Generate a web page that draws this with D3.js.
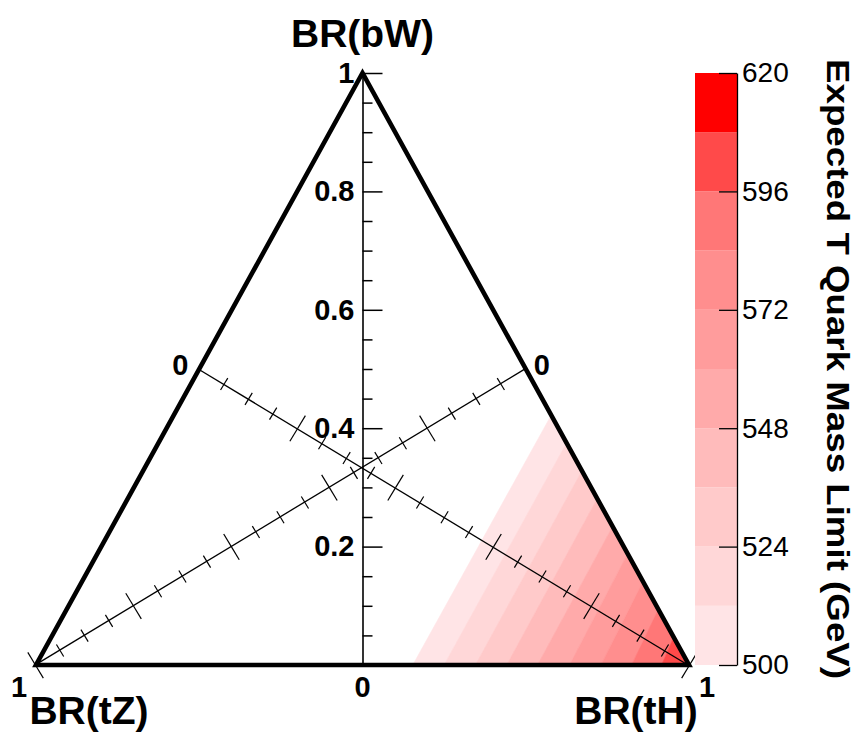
<!DOCTYPE html>
<html>
<head>
<meta charset="utf-8">
<script src="https://cdn.jsdelivr.net/npm/d3@7"></script>
<style>
  body { margin: 0; background: #fff; }
  svg text { font-family: "Liberation Sans", Arial, Helvetica, sans-serif; }
</style>
</head>
<body>
<svg id="chart" width="857" height="734"></svg>
<script>
// Expected T quark mass limit (GeV): contour levels and band colours
const levels = [500, 512, 524, 536, 548, 560, 572, 584, 596, 608, 620];
const levelColors = ["#ffe4e6", "#ffd7d8", "#ffcaca", "#ffbbbb", "#ffaaaa",
                     "#ff9c9c", "#ff8e8e", "#ff7777", "#ff4a4a", "#ff0000"];
// Where each contour (500 ... 596) meets the bottom edge: BR(tH) with BR(bW) = 0
const contourBottomTH = [0.577, 0.625, 0.673, 0.721, 0.768, 0.817, 0.865, 0.912, 0.958];
// Where each contour (500 ... 596) meets the right edge: BR(bW) with BR(tZ) = 0
const contourRightBW = [0.422, 0.375, 0.328, 0.281, 0.234, 0.188, 0.141, 0.094, 0.047];

// Axis ticks
const majorTicks = [0, 0.2, 0.4, 0.6, 0.8, 1];
const minorTicks = [0.05, 0.1, 0.15, 0.25, 0.3, 0.35, 0.45, 0.5, 0.55,
                    0.65, 0.7, 0.75, 0.85, 0.9, 0.95];
const paletteTicks = [500, 524, 548, 572, 596, 620];

const svg = d3.select("#chart");

// Frame coordinates: x = BR(tH) + BR(bW)/2, y = BR(bW)
const x = d3.scaleLinear().domain([0, 1]).range([36, 689]);
const y = d3.scaleLinear().domain([0, 1]).range([665, 73]);
const pt = (tH, bW) => [x(tH + bW / 2), y(bW)];

const cornerTZ = pt(0, 0), cornerTH = pt(1, 0), cornerBW = pt(0, 1);

// Coloured bands between successive contours
const bandsG = svg.append("g");
for (let k = 0; k < contourBottomTH.length; k++) {
  const poly = [pt(contourBottomTH[k], 0), pt(1 - contourRightBW[k], contourRightBW[k])];
  if (k + 1 < contourBottomTH.length) {
    poly.push(pt(1 - contourRightBW[k + 1], contourRightBW[k + 1]));
    poly.push(pt(contourBottomTH[k + 1], 0));
  } else {
    poly.push(cornerTH);
  }
  bandsG.append("path")
    .attr("d", d3.line()(poly) + "Z")
    .attr("fill", levelColors[k])
    .attr("stroke", levelColors[k])
    .attr("stroke-width", 0.6);
}

// Diagonal axes: BR(tH) from the left-edge midpoint, BR(tZ) from the right-edge midpoint
function diagonalAxis(p0, p1) {
  const dx = p1[0] - p0[0], dy = p1[1] - p0[1];
  const len = Math.hypot(dx, dy);
  const ang = Math.atan2(dy, dx) * 180 / Math.PI;
  const s = d3.scaleLinear().domain([0, 1]).range([0, len]);
  const g = svg.append("g").attr("transform", `translate(${p0[0]},${p0[1]}) rotate(${ang})`);
  const specs = [
    [d3.axisBottom, majorTicks, 15], [d3.axisTop, majorTicks, 15],
    [d3.axisBottom, minorTicks, 7], [d3.axisTop, minorTicks, 7]
  ];
  specs.forEach(([fn, vals, size], i) => {
    const a = g.append("g").call(fn(s).tickValues(vals).tickSizeInner(size).tickSizeOuter(0).tickFormat(""));
    a.selectAll(".tick line").attr("stroke", "#000").attr("stroke-width", 1.2);
    a.select(".domain").attr("stroke", "#000").attr("stroke-width", 1.3).attr("display", i === 0 ? null : "none");
  });
}
diagonalAxis(pt(0, 0.5), cornerTH);
diagonalAxis(pt(0.5, 0.5), cornerTZ);

// Vertical BR(bW) axis through the apex
const vAxisG = svg.append("g").attr("transform", `translate(${x(0.5)},0)`);
const vMajor = vAxisG.append("g").call(
  d3.axisLeft(y).tickValues(majorTicks).tickSizeInner(-20).tickSizeOuter(0).tickPadding(8)
    .tickFormat(d => d === 0 ? "" : d3.format("")(d)));
const vMinor = vAxisG.append("g").call(
  d3.axisLeft(y).tickValues(minorTicks).tickSizeInner(-10).tickSizeOuter(0).tickFormat(""));
[vMajor, vMinor].forEach(a => {
  a.selectAll(".tick line").attr("stroke", "#000").attr("stroke-width", 1.5);
  a.select(".domain").attr("stroke", "#000").attr("stroke-width", 1.6);
});
vMinor.select(".domain").attr("display", "none");
vMajor.selectAll(".tick text")
  .attr("font-size", 29).attr("font-weight", "bold").attr("fill", "#000")
  .attr("font-family", "'Liberation Sans', Arial, sans-serif");

// Triangle outline
svg.append("path")
  .attr("d", d3.line()([cornerTZ, cornerTH, cornerBW]) + "Z")
  .attr("fill", "none").attr("stroke", "#000").attr("stroke-width", 4.6)
  .attr("stroke-linejoin", "miter");

// End labels of the three axes
const endLabels = [
  { t: "0", at: [x(0.5), 697] },
  { t: "0", at: [pt(0, 0.5)[0] - 19, pt(0, 0.5)[1] + 6] },
  { t: "0", at: [pt(0.5, 0.5)[0] + 16, pt(0.5, 0.5)[1] + 6] },
  { t: "1", at: [cornerTZ[0] - 17, 697] },
  { t: "1", at: [cornerTH[0] + 18, 697] }
];
svg.selectAll("text.end").data(endLabels).join("text")
  .attr("class", "end")
  .attr("x", d => d.at[0]).attr("y", d => d.at[1])
  .attr("text-anchor", "middle").attr("font-size", 29).attr("font-weight", "bold")
  .text(d => d.t);

// Axis titles at the corners
const titles = [
  { t: "BR(bW)", at: [x(0.5), 47] },
  { t: "BR(tZ)", at: [89, 724] },
  { t: "BR(tH)", at: [636, 724] }
];
svg.selectAll("text.title").data(titles).join("text")
  .attr("class", "title")
  .attr("x", d => d.at[0]).attr("y", d => d.at[1])
  .attr("text-anchor", "middle").attr("font-size", 39).attr("font-weight", "bold")
  .text(d => d.t);

// Colour palette
const cbY = d3.scaleLinear().domain([500, 620]).range([665, 73]);
const cbLeft = 695, cbRight = 737;
svg.append("g").selectAll("rect").data(d3.range(levels.length - 1)).join("rect")
  .attr("x", cbLeft).attr("width", cbRight - cbLeft)
  .attr("y", k => cbY(levels[k + 1]))
  .attr("height", k => cbY(levels[k]) - cbY(levels[k + 1]))
  .attr("fill", k => levelColors[k]);
const cbAxis = svg.append("g").attr("transform", `translate(${cbRight},0)`)
  .call(d3.axisRight(cbY).tickValues(paletteTicks).tickSizeInner(-18).tickSizeOuter(0).tickPadding(5));
cbAxis.selectAll(".tick line").attr("stroke", "#000").attr("stroke-width", 1.3);
cbAxis.select(".domain").attr("stroke", "#000").attr("stroke-width", 1.3);
cbAxis.selectAll(".tick text").attr("font-size", 28).attr("fill", "#000")
  .attr("font-family", "'Liberation Sans', Arial, sans-serif");

svg.append("text")
  .attr("transform", `translate(827,${(58 + 680) / 2}) rotate(90)`)
  .attr("text-anchor", "middle").attr("font-size", 32).attr("font-weight", "bold")
  .attr("textLength", 620).attr("lengthAdjust", "spacingAndGlyphs")
  .text("Expected T Quark Mass Limit (GeV)");
</script>
</body>
</html>
